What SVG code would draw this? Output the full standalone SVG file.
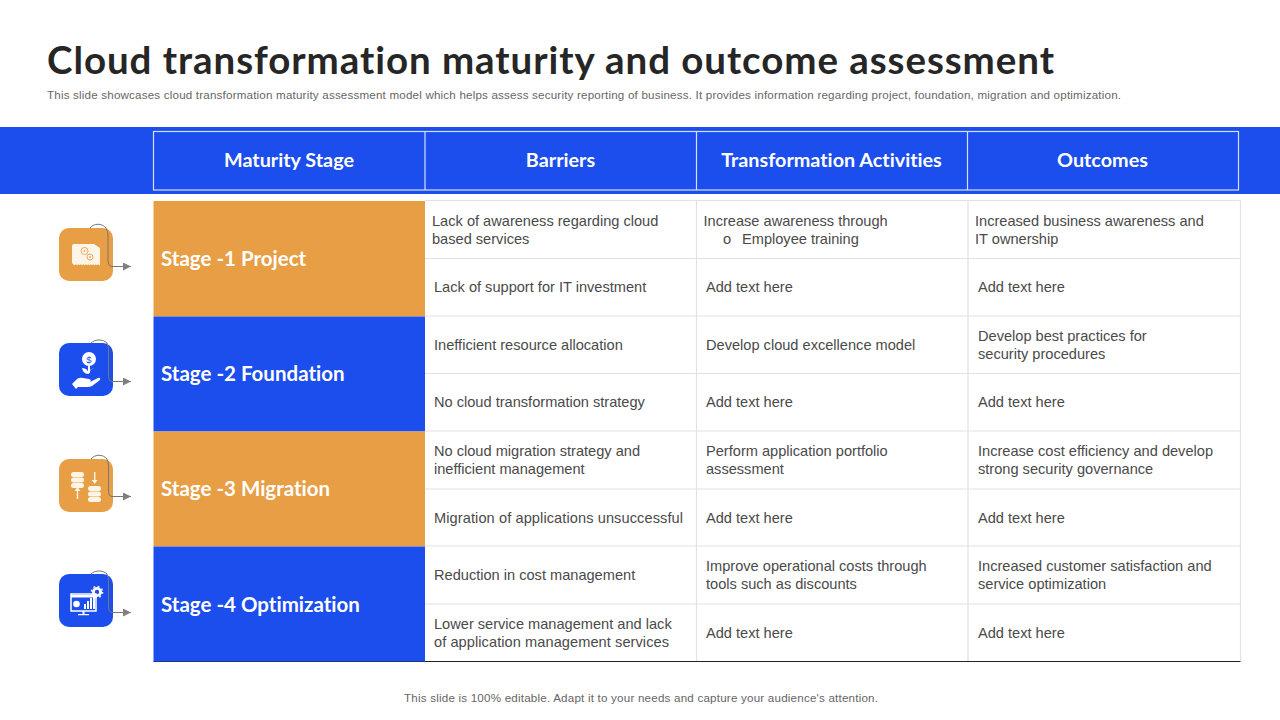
<svg xmlns="http://www.w3.org/2000/svg" width="1280" height="720" viewBox="0 0 1280 720">
<style>
text{font-variant-ligatures:none}
.h{font-family:"Lato","Liberation Sans",sans-serif;font-weight:700;fill:#fff}
.hd{font-size:19.8px;text-anchor:middle}
.st{font-size:20.5px}
.b{font-family:"Liberation Sans",Arial,sans-serif;font-size:14.6px;fill:#4a4a4a}
.s{font-family:"Liberation Sans",Arial,sans-serif;font-size:11.6px;fill:#666}
.g{stroke:#e2e2e2;stroke-width:1.2;fill:none}
.w{stroke:#d5e0fb;stroke-width:1.2;fill:none}
.c{fill:none;stroke:#777;stroke-width:1}
.i{fill:#fff}
.p{fill:#fff5e6}
</style>
<defs>
<marker id="a" markerWidth="9" markerHeight="9" refX="8" refY="4" orient="auto" markerUnits="userSpaceOnUse"><path d="M0 0L8 4L0 8Z" fill="#7f7f7f"/></marker>
</defs>
<rect width="1280" height="720" fill="#fff"/>
<text x="47" y="74" font-family="Lato,'Liberation Sans',sans-serif" font-weight="700" font-size="38.5px" fill="#262626" textLength="1007" lengthAdjust="spacing">Cloud transformation maturity and outcome assessment</text>
<text class="s" x="47" y="99" textLength="1074" lengthAdjust="spacing">This slide showcases cloud transformation maturity assessment model which helps assess security reporting of business. It provides information regarding project, foundation, migration and optimization.</text>

<g id="header">
<rect y="127" width="1280" height="67" fill="#1c4ded"/>
<rect class="w" x="153.500" y="131.500" width="1085" height="58.500"/>
<path class="w" d="M425 131.500V190M696.500 131.500V190M967.500 131.500V190"/>
<text class="h hd" x="289" y="167">Maturity Stage</text>
<text class="h hd" x="560.500" y="167">Barriers</text>
<text class="h hd" x="831.500" y="167">Transformation Activities</text>
<text class="h hd" x="1102.500" y="167">Outcomes</text>
</g>

<g id="grid">
<path class="g" d="M425 200.500H1240.500M425 258.500H1240.500M425 316H1240.500M425 373.500H1240.500M425 431H1240.500M425 489H1240.500M425 546H1240.500M425 604H1240.500M696.500 200.500V661M968 200.500V661M1240.500 200.500V661"/>
<path d="M153.500 661.500H1240.500" stroke="#222" stroke-width="1"/>
</g>

<g id="stage1"><rect x="153.500" y="201" width="271.500" height="115.500" fill="#e89e45"/><text class="h st" x="161" y="266">Stage -1 Project</text></g>
<g id="stage2"><rect x="153.500" y="316.500" width="271.500" height="115" fill="#1c4ded"/><text class="h st" x="161" y="381">Stage -2 Foundation</text></g>
<g id="stage3"><rect x="153.500" y="431.500" width="271.500" height="115" fill="#e89e45"/><text class="h st" x="161" y="496">Stage -3 Migration</text></g>
<g id="stage4"><rect x="153.500" y="546.500" width="271.500" height="115" fill="#1c4ded"/><text class="h st" x="161" y="612">Stage -4 Optimization</text></g>

<g id="cells">
<text class="b" x="432" y="226">Lack of awareness regarding cloud</text>
<text class="b" x="432" y="244">based services</text>
<text class="b" x="703.500" y="226">Increase awareness through</text>
<text class="b" x="723" y="244">o</text>
<text class="b" x="742" y="244">Employee training</text>
<text class="b" x="975" y="226">Increased business awareness and</text>
<text class="b" x="975" y="244">IT ownership</text>
<text class="b" x="434" y="292">Lack of support for IT investment</text>
<text class="b" x="706" y="292">Add text here</text>
<text class="b" x="978" y="292">Add text here</text>
<text class="b" x="434" y="350">Inefficient resource allocation</text>
<text class="b" x="706" y="350">Develop cloud excellence model</text>
<text class="b" x="978" y="341">Develop best practices for</text>
<text class="b" x="978" y="359">security procedures</text>
<text class="b" x="434" y="407">No cloud transformation strategy</text>
<text class="b" x="706" y="407">Add text here</text>
<text class="b" x="978" y="407">Add text here</text>
<text class="b" x="434" y="456">No cloud migration strategy and</text>
<text class="b" x="434" y="474">inefficient management</text>
<text class="b" x="706" y="456">Perform application portfolio</text>
<text class="b" x="706" y="474">assessment</text>
<text class="b" x="978" y="456">Increase cost efficiency and develop</text>
<text class="b" x="978" y="474">strong security governance</text>
<text class="b" x="434" y="523" textLength="249" lengthAdjust="spacing">Migration of applications unsuccessful</text>
<text class="b" x="706" y="523">Add text here</text>
<text class="b" x="978" y="523">Add text here</text>
<text class="b" x="434" y="580">Reduction in cost management</text>
<text class="b" x="706" y="571">Improve operational costs through</text>
<text class="b" x="706" y="589">tools such as discounts</text>
<text class="b" x="978" y="571">Increased customer satisfaction and</text>
<text class="b" x="978" y="589">service optimization</text>
<text class="b" x="434" y="629">Lower service management and lack</text>
<text class="b" x="434" y="647" textLength="235" lengthAdjust="spacing">of application management services</text>
<text class="b" x="706" y="638">Add text here</text>
<text class="b" x="978" y="638">Add text here</text>
</g>

<g id="icon1">
<rect x="59" y="228" width="54" height="53" rx="10" fill="#e89e45"/>
<path class="p" d="M72 246q0-2 2-2h20l6 4v17h-26l-2-2z"/>
<path d="M75 264.500h25" stroke="#e8c48f" stroke-width="0.800" stroke-dasharray="1.500 1"/>
<circle cx="84.500" cy="251" r="3.500" fill="none" stroke="#e8a860"/>
<circle cx="84.500" cy="251" r="1" fill="#e8a860"/>
<circle cx="90" cy="257" r="3" fill="none" stroke="#e8a860"/>
<circle cx="90" cy="257" r="0.900" fill="#e8a860"/>
</g>
<g id="icon2">
<rect x="59" y="343" width="54" height="53" rx="10" fill="#1c4ded"/>
<circle cx="89" cy="359" r="7" class="i"/>
<text x="89" y="362.500" text-anchor="middle" font-family="Liberation Sans,sans-serif" font-size="9.500px" fill="#1c4ded">$</text>
<path class="i" d="M88 366h2v7h-2zM82 368q6 0 7 6q-6 0-7-6zM96 368q-6 0-7 6q0-6 7-6z"/>
<path class="i" d="M72 384l5-5q3-2 6-1l6 1q3 1 1 3l-5 0l5 0l8-4q3-1 2 2l-8 6q-2 1-5 1h-9l-2 2z"/>
</g>
<g id="icon3">
<rect x="59" y="459" width="54" height="53" rx="10" fill="#e89e45"/>
<g class="p">
<rect x="71" y="472" width="13" height="5" rx="2.500"/><rect x="71" y="477.500" width="13" height="5" rx="2.500"/><rect x="71" y="483" width="13" height="5" rx="2.500"/>
<rect x="88" y="486" width="13" height="5" rx="2.500"/><rect x="88" y="491.500" width="13" height="5" rx="2.500"/><rect x="88" y="497" width="13" height="5" rx="2.500"/>
<path d="M76.800 499v-8h-2.300l3-4 3 4h-2.300v8zM94 472v8h-2.300l3 4 3-4h-2.300v-8z"/>
</g>
</g>
<g id="icon4">
<rect x="59" y="574" width="54" height="53" rx="10" fill="#1c4ded"/>
<rect x="71" y="594" width="25" height="17" fill="none" stroke="#fff" stroke-width="1.500"/>
<path class="i" d="M71 595h25v2.500h-25zM82.500 611h2v3h-2zM78 614h11v1.200h-11z"/>
<circle cx="76.500" cy="604" r="3.300" class="i"/>
<path class="i" d="M84 604h2v5h-2zM87 601h2v8h-2zM90 598h2v11h-2zM93 595h2v14h-2z"/>
<circle cx="97" cy="592" r="3.600" fill="none" stroke="#fff" stroke-width="2.800"/>
<circle cx="97" cy="592" r="5.600" fill="none" stroke="#fff" stroke-width="1.400" stroke-dasharray="1.800 2.600"/>
</g>

<g id="connectors">
<path class="c" d="M90 228C94 223 102 223 106 228Q108 231 108 236V260Q108 266.500 112 266.500H131" marker-end="url(#a)"/>
<path class="c" d="M91 343C95 339 103 339 107 343Q108.500 346 108.500 350V375Q108.500 381.500 112 381.500H131" marker-end="url(#a)"/>
<path class="c" d="M91 459C95 454 103 454 107 459Q108.500 462 108.500 466V490Q108.500 496.500 112 496.500H131" marker-end="url(#a)"/>
<path class="c" d="M91 574C95 570 103 570 107 574Q108.500 577 108.500 581V606Q108.500 612.500 112 612.500H131" marker-end="url(#a)"/>
</g>

<text class="s" x="641" y="702" text-anchor="middle" textLength="474" lengthAdjust="spacing">This slide is 100% editable. Adapt it to your needs and capture your audience's attention.</text>
</svg>
